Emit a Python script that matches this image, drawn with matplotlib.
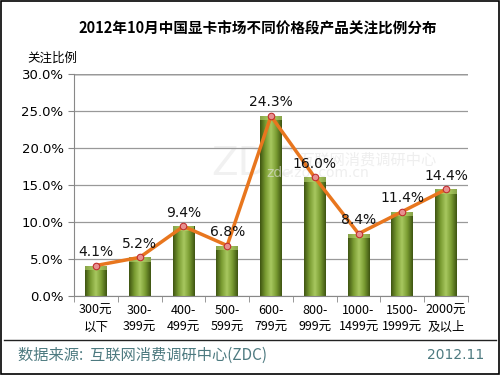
import numpy as np
import matplotlib
matplotlib.use('Agg')
import matplotlib.pyplot as plt
from matplotlib.colors import LinearSegmentedColormap
from matplotlib.patches import Rectangle

plt.rcParams['font.family'] = ['DejaVu Sans', 'Noto Sans CJK SC']

# data
categories = ['300元\n以下', '300-\n399元', '400-\n499元', '500-\n599元', '600-\n799元',
              '800-\n999元', '1000-\n1499元', '1500-\n1999元', '2000元\n及以上']
values = [4.1, 5.2, 9.4, 6.8, 24.3, 16.0, 8.4, 11.4, 14.4]
yticks = [0, 5, 10, 15, 20, 25, 30]

fig = plt.figure(figsize=(5, 3.75), dpi=100)
ax = fig.add_axes([0.148, 0.211, 0.788, 0.592])

x = np.arange(len(values))
bar_w = 0.5
bars = ax.bar(x, values, width=bar_w, color='#6b8a2a', zorder=2)

# cylinder-like shading for the bars
green = LinearSegmentedColormap.from_list('g', ['#3f5512', '#7a9c32', '#a8c860', '#7a9c32', '#3f5512'])
grad = np.linspace(0, 1, 64).reshape(1, -1)
for b in bars:
    x0, w, h = b.get_x(), b.get_width(), b.get_height()
    im = ax.imshow(grad, cmap=green, aspect='auto', extent=[x0, x0 + w, 0, h], zorder=2.1)
    im.set_clip_path(b)
    ax.add_patch(Rectangle((x0, h - 0.6), w, 0.6, color='#b8d670', alpha=0.6, zorder=2.2, lw=0))

ax.plot(x, values, color='#e8761e', lw=2.5, zorder=3)
ax.scatter(x, values, s=22, color='#e89090', edgecolor='#c03030', lw=0.8, zorder=4)

for xi, v in zip(x, values):
    ax.text(xi, v + 0.9, '%.1f%%' % v, ha='center', va='bottom', fontsize=10, color='#111111', zorder=5)

ax.set_xlim(-0.5, len(values) - 0.5)
ax.set_ylim(0, 30)
ax.set_yticks(yticks)
ax.set_yticklabels(['%.1f%%' % t for t in yticks], fontsize=9.5)
ax.set_xticks(x)
ax.set_xticklabels(categories, fontsize=9, linespacing=1.35,
                   family=['Noto Sans CJK SC', 'DejaVu Sans'])
ax.set_xticks(np.arange(-0.5, len(values), 1), minor=True)
ax.tick_params(axis='x', which='major', length=0, pad=6)
ax.tick_params(axis='x', which='minor', length=4, color='#888888')
ax.tick_params(axis='y', length=4, color='#888888')
ax.grid(axis='y', color='#999999', lw=0.9, zorder=0)
ax.spines['right'].set_visible(False)
ax.spines['top'].set_visible(False)
ax.spines['left'].set_color('#888888')
ax.spines['bottom'].set_color('#888888')
ax.axhline(30, color='#222222', lw=1, zorder=1)

# faint watermark
ax.text(4.55, 17.8, 'ZDC', fontsize=28, color='#e4e4e4', alpha=0.5, ha='right', va='center', zorder=1.5)
ax.text(4.65, 18.4, '互联网消费调研中心', fontsize=11, color='#e4e4e4', alpha=0.6, va='center',
        family=['Noto Sans CJK SC'], zorder=2.5)
ax.text(3.9, 16.6, 'zdc.zol.com.cn', fontsize=10, color='#e4e4e4', alpha=0.6, va='center', zorder=2.5)

fig.text(0.515, 0.925, '2012年10月中国显卡市场不同价格段产品关注比例分布', ha='center', va='center',
         fontsize=10.5, fontweight='bold', family=['Noto Sans CJK SC', 'DejaVu Sans'])
fig.text(0.054, 0.845, '关注比例', ha='left', va='center', fontsize=9,
         family=['Noto Sans CJK SC', 'DejaVu Sans'])

# footer
fig.add_artist(plt.Line2D([0.008, 0.992], [0.094, 0.094], color='#222222', lw=1))
fig.text(0.036, 0.053, '数据来源:  互联网消费调研中心(ZDC)', fontsize=11, color='#4d7a80',
         va='center', family=['Noto Sans CJK SC', 'DejaVu Sans'])
fig.text(0.968, 0.053, '2012.11', fontsize=10, color='#4d7a80', va='center', ha='right')

# outer border
fig.add_artist(Rectangle((0.002, 0.003), 0.995, 0.994, transform=fig.transFigure,
                         fill=False, edgecolor='black', lw=1.2))

fig.savefig('out.png', dpi=100)
